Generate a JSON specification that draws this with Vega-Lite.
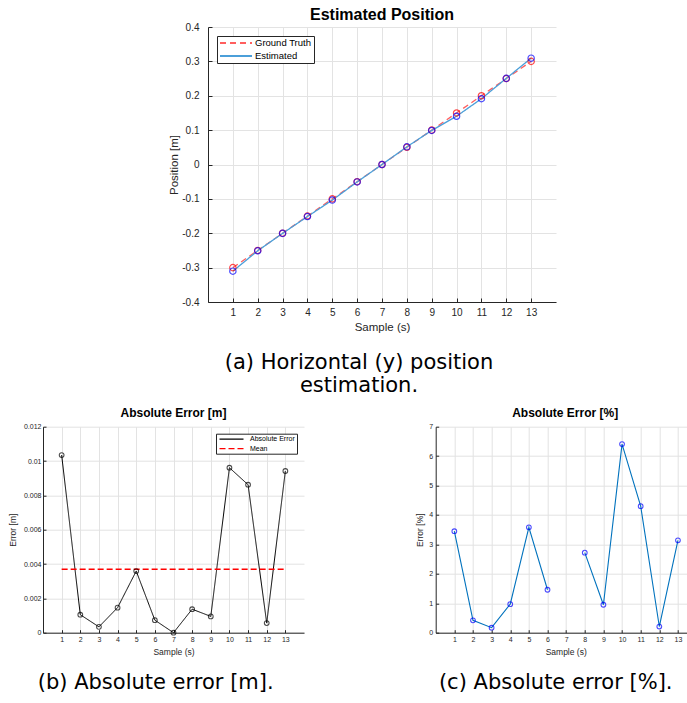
{
  "$schema": "https://vega.github.io/schema/vega-lite/v6.json",
  "padding": {"left": 8, "top": 7, "right": 0, "bottom": 5},
  "background": "white",
  "datasets": {
    "pos": [
      {"sample": 1, "series": "Ground Truth", "value": -0.3},
      {"sample": 2, "series": "Ground Truth", "value": -0.25},
      {"sample": 3, "series": "Ground Truth", "value": -0.2},
      {"sample": 4, "series": "Ground Truth", "value": -0.15},
      {"sample": 5, "series": "Ground Truth", "value": -0.1},
      {"sample": 6, "series": "Ground Truth", "value": -0.05},
      {"sample": 7, "series": "Ground Truth", "value": 0},
      {"sample": 8, "series": "Ground Truth", "value": 0.05},
      {"sample": 9, "series": "Ground Truth", "value": 0.1},
      {"sample": 10, "series": "Ground Truth", "value": 0.15},
      {"sample": 11, "series": "Ground Truth", "value": 0.2},
      {"sample": 12, "series": "Ground Truth", "value": 0.25},
      {"sample": 13, "series": "Ground Truth", "value": 0.3},
      {"sample": 1, "series": "Estimated", "value": -0.31035},
      {"sample": 2, "series": "Estimated", "value": -0.25105},
      {"sample": 3, "series": "Estimated", "value": -0.20035},
      {"sample": 4, "series": "Estimated", "value": -0.15145},
      {"sample": 5, "series": "Estimated", "value": -0.1036},
      {"sample": 6, "series": "Estimated", "value": -0.05072},
      {"sample": 7, "series": "Estimated", "value": 0},
      {"sample": 8, "series": "Estimated", "value": 0.05135},
      {"sample": 9, "series": "Estimated", "value": 0.09905},
      {"sample": 10, "series": "Estimated", "value": 0.1404},
      {"sample": 11, "series": "Estimated", "value": 0.1914},
      {"sample": 12, "series": "Estimated", "value": 0.25055},
      {"sample": 13, "series": "Estimated", "value": 0.3094}
    ],
    "abs": [
      {"sample": 1, "err": 0.01035},
      {"sample": 2, "err": 0.00105},
      {"sample": 3, "err": 0.00034},
      {"sample": 4, "err": 0.00146},
      {"sample": 5, "err": 0.00359},
      {"sample": 6, "err": 0.00073},
      {"sample": 7, "err": 0.0},
      {"sample": 8, "err": 0.00137},
      {"sample": 9, "err": 0.00095},
      {"sample": 10, "err": 0.00961},
      {"sample": 11, "err": 0.00862},
      {"sample": 12, "err": 0.00056},
      {"sample": 13, "err": 0.00942}
    ],
    "mean": [
      {"start": 1, "end": 13, "mean": 0.00369}
    ],
    "pct": [
      {"sample": 1, "pct": 3.45},
      {"sample": 2, "pct": 0.42},
      {"sample": 3, "pct": 0.17},
      {"sample": 4, "pct": 0.97},
      {"sample": 5, "pct": 3.58},
      {"sample": 6, "pct": 1.46},
      {"sample": 7, "pct": null},
      {"sample": 8, "pct": 2.72},
      {"sample": 9, "pct": 0.95},
      {"sample": 10, "pct": 6.41},
      {"sample": 11, "pct": 4.3},
      {"sample": 12, "pct": 0.21},
      {"sample": 13, "pct": 3.14}
    ]
  },
  "config": {
    "font": "Liberation Sans",
    "view": {"stroke": null},
    "axis": {
      "domainColor": "#262626",
      "tickColor": "#262626",
      "labelColor": "#262626",
      "titleColor": "#262626",
      "gridColor": "#e3e3e3",
      "labelFont": "Liberation Sans",
      "titleFont": "Liberation Sans",
      "titleFontWeight": "normal",
      "labelFlush": false,
      "labelOverlap": false,
      "domainWidth": 1,
      "tickWidth": 1
    },
    "legend": {
      "title": null,
      "strokeColor": "#262626",
      "fillColor": "white",
      "labelColor": "black",
      "labelFont": "Liberation Sans"
    },
    "title": {"font": "Liberation Sans", "color": "black"}
  },
  "bounds": "flush",
  "spacing": 399.7,
  "resolve": {
    "scale": {"x": "independent", "y": "independent", "color": "independent", "strokeDash": "independent", "stroke": "independent"},
    "legend": {"color": "independent", "strokeDash": "independent", "stroke": "independent"}
  },
  "vconcat": [
    {
      "bounds": "flush",
      "spacing": 0,
      "resolve": {
        "scale": {"x": "independent", "y": "independent", "color": "independent", "strokeDash": "independent", "stroke": "independent"},
        "legend": {"color": "independent", "strokeDash": "independent", "stroke": "independent"}
      },
      "hconcat": [
        {
          "width": 164.7,
          "height": 10,
          "data": {"values": [{}]},
          "mark": {"type": "point", "opacity": 0}
        },
        {
          "bounds": "flush",
          "resolve": {
            "scale": {"x": "independent", "y": "independent", "color": "independent", "strokeDash": "independent", "stroke": "independent"},
            "legend": {"color": "independent", "strokeDash": "independent", "stroke": "independent"}
          },
          "title": {
            "text": ["(a) Horizontal (y) position", "estimation."],
            "orient": "bottom",
            "frame": "group",
            "anchor": "middle",
            "align": "center",
            "font": "DejaVu Sans",
            "fontSize": 21,
            "fontWeight": "normal",
            "lineHeight": 23,
            "offset": 19,
            "dx": 151
          },
          "vconcat": [
            {
              "width": 348,
              "height": 275,
              "title": {"text": "Estimated Position", "fontSize": 16, "fontWeight": "bold", "offset": -1},
              "data": {"name": "pos"},
              "encoding": {
                "x": {
                  "field": "sample", "type": "quantitative",
                  "scale": {"domain": [0, 14], "nice": false, "zero": false},
                  "axis": {"values": [1,2,3,4,5,6,7,8,9,10,11,12,13], "title": "Sample (s)", "labelFontSize": 10, "titleFontSize": 11.5, "tickSize": -4, "labelPadding": 9, "titlePadding": 4}
                },
                "y": {
                  "field": "value", "type": "quantitative",
                  "scale": {"domain": [-0.4, 0.4], "nice": false},
                  "axis": {"values": [-0.4,-0.3,-0.2,-0.1,0,0.1,0.2,0.3,0.4], "labelExpr": "'' + datum.value", "title": "Position [m]", "labelFontSize": 10, "titleFontSize": 11.5, "tickSize": -4, "labelPadding": 13, "titlePadding": 2}
                }
              },
              "layer": [
                {
                  "transform": [{"filter": "datum.series === 'Ground Truth'"}],
                  "mark": {"type": "line", "strokeWidth": 1.3},
                  "encoding": {
                    "color": {"field": "series", "type": "nominal", "scale": {"domain": ["Ground Truth", "Estimated"], "range": ["#ff5e5e", "#4b9fd9"]}, "legend": {"orient": "top-left", "offset": 9, "padding": 2, "labelFontSize": 9.5, "symbolType": "M-4,0L4,0", "symbolSize": 64, "symbolOffset": 12, "symbolStrokeWidth": 2, "rowPadding": 3, "labelOffset": 14}},
                    "strokeDash": {"field": "series", "type": "nominal", "scale": {"domain": ["Ground Truth", "Estimated"], "range": [[6, 4], [1, 0]]}, "legend": {"orient": "top-left", "offset": 9, "padding": 2, "labelFontSize": 9.5, "symbolType": "M-4,0L4,0", "symbolSize": 64, "symbolOffset": 12, "symbolStrokeWidth": 2, "rowPadding": 3, "labelOffset": 14}}
                  }
                },
                {
                  "transform": [{"filter": "datum.series === 'Estimated'"}],
                  "mark": {"type": "line", "strokeWidth": 1.3},
                  "encoding": {
                    "color": {"field": "series", "type": "nominal"},
                    "strokeDash": {"field": "series", "type": "nominal"}
                  }
                },
                {
                  "mark": {"type": "point", "shape": "circle", "size": 40, "strokeWidth": 1.2, "filled": false},
                  "encoding": {
                    "stroke": {"field": "series", "type": "nominal", "scale": {"domain": ["Ground Truth", "Estimated"], "range": ["#ff0000", "#0000ff"]}, "legend": null}
                  }
                }
              ]
            }
          ]
        }
      ]
    },
    {
      "bounds": "flush",
      "spacing": 392.7,
      "resolve": {
        "scale": {"x": "independent", "y": "independent", "color": "independent", "strokeDash": "independent", "stroke": "independent"},
        "legend": {"color": "independent", "strokeDash": "independent", "stroke": "independent"}
      },
      "hconcat": [
        {
          "bounds": "flush",
          "resolve": {
            "scale": {"x": "independent", "y": "independent", "color": "independent", "strokeDash": "independent", "stroke": "independent"},
            "legend": {"color": "independent", "strokeDash": "independent", "stroke": "independent"}
          },
          "title": {
            "text": "(b) Absolute error [m].",
            "orient": "bottom",
            "frame": "group",
            "anchor": "middle",
            "align": "center",
            "font": "DejaVu Sans",
            "fontSize": 21,
            "fontWeight": "normal",
            "offset": 16,
            "dx": 112.7
          },
          "vconcat": [
            {
              "width": 261,
              "height": 206,
              "title": {"text": "Absolute Error [m]", "fontSize": 12, "fontWeight": "bold", "offset": 3},
              "encoding": {
                "x": {
                  "type": "quantitative",
                  "scale": {"domain": [0, 14], "nice": false, "zero": false},
                  "axis": {"values": [1,2,3,4,5,6,7,8,9,10,11,12,13], "title": "Sample (s)", "labelFontSize": 7, "titleFontSize": 8.5, "tickSize": -3, "labelPadding": 5.5, "titlePadding": 5.5}
                },
                "y": {
                  "type": "quantitative",
                  "scale": {"domain": [0, 0.012], "nice": false},
                  "axis": {"values": [0,0.002,0.004,0.006,0.008,0.01,0.012], "labelExpr": "'' + datum.value", "title": "Error [m]", "labelFontSize": 7, "titleFontSize": 8.5, "tickSize": -3, "labelPadding": 5, "titlePadding": 5.5}
                }
              },
              "layer": [
                {
                  "data": {"name": "abs"},
                  "mark": {"type": "line", "strokeWidth": 1},
                  "encoding": {
                    "x": {"field": "sample", "type": "quantitative"},
                    "y": {"field": "err", "type": "quantitative"},
                    "color": {"datum": "Absolute Error", "type": "nominal", "scale": {"domain": ["Absolute Error", "Mean"], "range": ["black", "#ff0000"]}, "legend": {"orient": "top-right", "offset": 7, "padding": 2, "labelFontSize": 7, "symbolType": "M-6,0L6,0", "symbolSize": 16, "symbolOffset": 10, "symbolStrokeWidth": 1.3, "rowPadding": 1.5, "labelOffset": 15}},
                    "strokeDash": {"datum": "Absolute Error", "type": "nominal", "scale": {"domain": ["Absolute Error", "Mean"], "range": [[1, 0], [6, 3]]}, "legend": {"orient": "top-right", "offset": 7, "padding": 2, "labelFontSize": 7, "symbolType": "M-6,0L6,0", "symbolSize": 16, "symbolOffset": 10, "symbolStrokeWidth": 1.3, "rowPadding": 1.5, "labelOffset": 15}}
                  }
                },
                {
                  "data": {"name": "mean"},
                  "mark": {"type": "rule", "strokeWidth": 1.5},
                  "encoding": {
                    "x": {"field": "start", "type": "quantitative"},
                    "x2": {"field": "end"},
                    "y": {"field": "mean", "type": "quantitative"},
                    "color": {"datum": "Mean", "type": "nominal"},
                    "strokeDash": {"datum": "Mean", "type": "nominal"}
                  }
                },
                {
                  "data": {"name": "abs"},
                  "mark": {"type": "point", "shape": "circle", "size": 22, "strokeWidth": 1.1, "filled": false, "stroke": "black"},
                  "encoding": {
                    "x": {"field": "sample", "type": "quantitative"},
                    "y": {"field": "err", "type": "quantitative"}
                  }
                }
              ]
            }
          ]
        },
        {
          "bounds": "flush",
          "title": {
            "text": "(c) Absolute error [%].",
            "orient": "bottom",
            "frame": "group",
            "anchor": "middle",
            "align": "center",
            "font": "DejaVu Sans",
            "fontSize": 21,
            "fontWeight": "normal",
            "offset": 16,
            "dx": 120
          },
          "vconcat": [
            {
              "width": 251,
              "height": 206,
              "title": {"text": "Absolute Error [%]", "fontSize": 12, "fontWeight": "bold", "offset": 3, "dx": 4},
              "data": {"name": "pct"},
              "encoding": {
                "x": {
                  "field": "sample", "type": "quantitative",
                  "scale": {"domain": [0, 13.47], "nice": false, "zero": false},
                  "axis": {"values": [1,2,3,4,5,6,7,8,9,10,11,12,13], "title": "Sample (s)", "labelFontSize": 7, "titleFontSize": 8.5, "tickSize": -3, "labelPadding": 5.5, "titlePadding": 5.5, "titleX": 130}
                },
                "y": {
                  "field": "pct", "type": "quantitative",
                  "scale": {"domain": [0, 7], "nice": false},
                  "axis": {"values": [0,1,2,3,4,5,6,7], "title": "Error [%]", "labelFontSize": 7, "titleFontSize": 8.5, "tickSize": -3, "labelPadding": 6, "titlePadding": 4}
                }
              },
              "layer": [
                {
                  "mark": {"type": "line", "strokeWidth": 1.1, "color": "#0072bd", "invalid": "break-paths-filter-domains"}
                },
                {
                  "mark": {"type": "point", "shape": "circle", "size": 22, "strokeWidth": 1.1, "filled": false, "stroke": "#0000ff", "invalid": "filter"}
                }
              ]
            }
          ]
        }
      ]
    }
  ]
}
